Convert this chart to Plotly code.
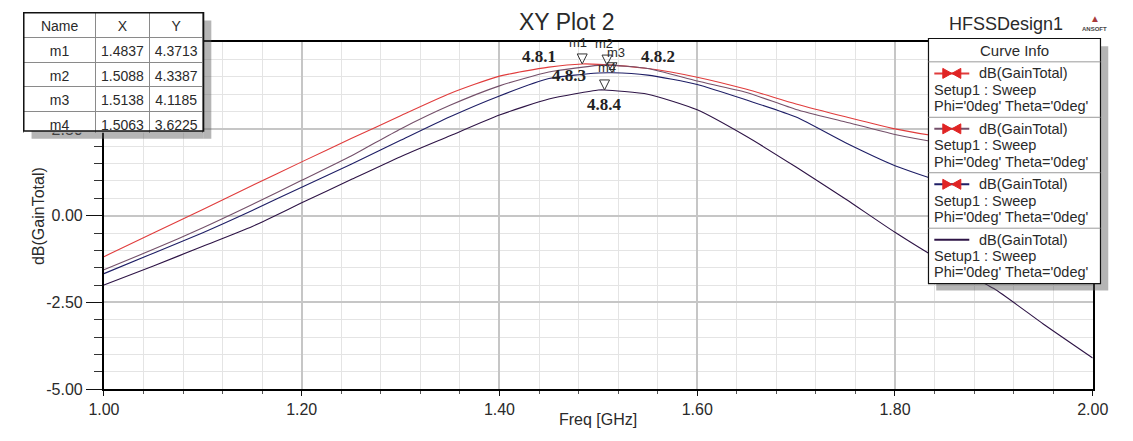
import plotly.graph_objects as go

# ---------------------------------------------------------------- data
freq = [1.00, 1.05, 1.10, 1.15, 1.20, 1.25, 1.30, 1.35, 1.40, 1.45, 1.50,
        1.55, 1.60, 1.65, 1.70, 1.75, 1.80, 1.85, 1.90, 1.95, 2.00]

gain_481 = [-1.18, -0.50, 0.18, 0.87, 1.55, 2.22, 2.88, 3.52, 4.02, 4.28, 4.36,
            4.24, 3.99, 3.64, 3.22, 2.85, 2.50, 2.26, 2.12, 2.04, 2.00]
gain_482 = [-1.56, -0.97, -0.35, 0.32, 1.02, 1.72, 2.50, 3.18, 3.74, 4.14, 4.33,
            4.24, 3.88, 3.55, 3.06, 2.70, 2.34, 2.08, 1.88, 1.72, 1.60]
gain_483 = [-1.67, -1.08, -0.49, 0.15, 0.82, 1.48, 2.17, 2.85, 3.45, 3.95, 4.11,
            4.05, 3.78, 3.33, 2.84, 2.10, 1.44, 0.96, 0.62, 0.38, 0.20]
gain_484 = [-2.00, -1.45, -0.88, -0.31, 0.37, 1.04, 1.70, 2.30, 2.90, 3.36, 3.62,
            3.50, 3.05, 2.28, 1.40, 0.48, -0.48, -1.35, -2.10, -3.12, -4.10]

series = [gain_481, gain_482, gain_483, gain_484]
curve_labels = ["4.8.1", "4.8.2", "4.8.3", "4.8.4"]

marker_names = ["m1", "m2", "m3", "m4"]
marker_x = [1.4837, 1.5088, 1.5138, 1.5063]
marker_y = [4.3713, 4.3387, 4.1185, 3.6225]

x_tickvals = [1.0, 1.2, 1.4, 1.6, 1.8, 2.0]
x_ticktext = ["1.00", "1.20", "1.40", "1.60", "1.80", "2.00"]
y_tickvals = [-5.0, -2.5, 0.0, 2.5, 5.0]
y_ticktext = ["-5.00", "-2.50", "0.00", "2.50", "5.00"]

legend_lines = ["dB(GainTotal)", "Setup1 : Sweep", "Phi='0deg' Theta='0deg'"]

# ---------------------------------------------------------------- style
W, H = 1133, 441
FONT = "Liberation Sans, Arial, sans-serif"
SERIF = "Liberation Serif, Times New Roman, serif"
TEXT = "#2a2a2a"
SHADOW = "rgba(90,90,90,0.45)"

line_colors = ["#e03c3c", "#74506a", "#1e1e66", "#2e1446"]
legend_symbol = [True, True, True, False]
SYMBOL_RED = "#e02424"

# text positions of the curve names (data units)
label_pos_x = [1.440, 1.560, 1.470, 1.506]
label_pos_y = [4.58, 4.58, 4.04, 3.21]
# marker-name offsets in pixels
marker_label_dx = [-4, -3, 4, 2]
marker_label_dy = [21, 22, 20, 22]


def px(x):
    return x / W


def py(y):
    return 1 - y / H


def text_at(x, y, text, size, xanchor="center", family=FONT, color=TEXT, **kw):
    return dict(x=px(x), y=py(y), xref="paper", yref="paper", text=text,
                showarrow=False, xanchor=xanchor, yanchor="middle",
                font=dict(family=family, size=size, color=color), **kw)


fig = go.Figure()

# ---------------------------------------------------------------- curves
for vals, mx, my, col in zip(series, marker_x, marker_y, line_colors):
    pts = sorted(list(zip(freq, vals)) + [(mx, my)])
    fig.add_trace(go.Scatter(
        x=[p[0] for p in pts], y=[p[1] for p in pts],
        mode="lines", line=dict(color=col, width=1.1, shape="spline", smoothing=0.6),
        hoverinfo="skip", showlegend=False))

# ---------------------------------------------------------------- marker table
fig.add_trace(go.Table(
    domain=dict(x=[px(8), px(193)], y=[py(130), py(5)]),
    columnwidth=[74, 56, 55],
    header=dict(values=["Name", "X", "Y"], height=25, align="center",
                fill_color="white", line=dict(color="#8a8a8a", width=1),
                font=dict(family=FONT, size=14, color=TEXT)),
    cells=dict(values=[marker_names,
                       [f"{v:.4f}" for v in marker_x],
                       [f"{v:.4f}" for v in marker_y]],
               height=24.5, align="center", fill_color="white",
               line=dict(color="#8a8a8a", width=1),
               font=dict(family=FONT, size=14, color=TEXT)),
))

shapes = []
annotations = []

# table shadow + outline
shapes.append(dict(type="rect", xref="paper", yref="paper", layer="above",
                   x0=px(193), x1=px(201), y0=py(136), y1=py(13),
                   fillcolor=SHADOW, line=dict(width=0)))
shapes.append(dict(type="rect", xref="paper", yref="paper", layer="above",
                   x0=px(16), x1=px(193), y0=py(136), y1=py(128),
                   fillcolor=SHADOW, line=dict(width=0)))
shapes.append(dict(type="rect", xref="paper", yref="paper", layer="above",
                   x0=px(8), x1=px(193), y0=py(128), y1=py(5),
                   fillcolor="rgba(0,0,0,0)", line=dict(color="#111", width=1.5)))

# ---------------------------------------------------------------- markers
for name, mx, my, dx, dy in zip(marker_names, marker_x, marker_y,
                                marker_label_dx, marker_label_dy):
    shapes.append(dict(type="path", xref="x", yref="y", layer="above",
                       xsizemode="pixel", ysizemode="pixel",
                       xanchor=mx, yanchor=my,
                       path="M -5,10 L 5,10 L 0,0 Z",
                       fillcolor="rgba(0,0,0,0)", line=dict(color="#333", width=1)))
    annotations.append(dict(x=mx, y=my, xref="x", yref="y", text=name,
                            showarrow=False, xanchor="center", yanchor="middle",
                            xshift=dx, yshift=dy,
                            font=dict(family=FONT, size=13, color=TEXT)))

for txt, lx, ly in zip(curve_labels, label_pos_x, label_pos_y):
    annotations.append(dict(x=lx, y=ly, xref="x", yref="y", text=f"<b>{txt}</b>",
                            showarrow=False, xanchor="center", yanchor="middle",
                            font=dict(family=SERIF, size=17, color="#222")))

# ---------------------------------------------------------------- curve-info box
LX0, LX1, LY0, LY1 = 939, 1116, 31.7, 286.7
HEAD = 56
ROW = (LY1 - HEAD) / 4
LEG_FONT = 14.5
shapes.append(dict(type="rect", xref="paper", yref="paper", layer="above",
                   x0=px(LX0 + 8), x1=px(LX1 + 8), y0=py(LY1 + 7), y1=py(LY0 + 8),
                   fillcolor=SHADOW, line=dict(width=0)))
shapes.append(dict(type="rect", xref="paper", yref="paper", layer="above",
                   x0=px(LX0), x1=px(LX1), y0=py(LY1), y1=py(LY0),
                   fillcolor="white", line=dict(color="#111", width=1.2)))
annotations.append(text_at((LX0 + LX1) / 2, 44, "Curve Info", 15))
for i, (col, sym) in enumerate(zip(line_colors, legend_symbol)):
    top = HEAD + i * ROW
    shapes.append(dict(type="line", xref="paper", yref="paper", layer="above",
                       x0=px(LX0), x1=px(LX1), y0=py(top), y1=py(top),
                       line=dict(color="#9a9a9a", width=1)))
    cy = top + 12
    shapes.append(dict(type="line", xref="paper", yref="paper", layer="above",
                       x0=px(945), x1=px(981), y0=py(cy), y1=py(cy),
                       line=dict(color=col, width=2)))
    if sym:
        shapes.append(dict(type="path", xref="paper", yref="paper", layer="above",
                           xsizemode="pixel", ysizemode="pixel",
                           xanchor=px(963), yanchor=py(cy),
                           path="M -9,5 L 0,0 L -9,-5 Z M 9,5 L 0,0 L 9,-5 Z",
                           fillcolor=SYMBOL_RED, line=dict(color=SYMBOL_RED, width=1)))
    annotations.append(text_at(989, cy, legend_lines[0], LEG_FONT, xanchor="left"))
    annotations.append(text_at(943, cy + 17, legend_lines[1], LEG_FONT, xanchor="left"))
    annotations.append(text_at(943, cy + 34, legend_lines[2], LEG_FONT, xanchor="left"))

# ---------------------------------------------------------------- titles
annotations.append(text_at(566, 15, "XY Plot 2", 23))
annotations.append(text_at(1019, 17, "HFSSDesign1", 18))
annotations.append(text_at(1110, 11, "▲", 10, color="#a83a3a"))
annotations.append(text_at(1110, 22, "<b>ANSOFT</b>", 6, color="#444"))
annotations.append(text_at(599, 428, "Freq [GHz]", 16))
annotations.append(text_at(23, 216, "dB(GainTotal)", 16, textangle=-90))

# ---------------------------------------------------------------- axes
fig.update_layout(
    width=W, height=H, margin=dict(l=0, r=0, t=0, b=0),
    paper_bgcolor="white", plot_bgcolor="white", showlegend=False,
    font=dict(family=FONT, color=TEXT),
    xaxis=dict(domain=[px(90.5), px(1108)], range=[1, 2],
               tickvals=x_tickvals, ticktext=x_ticktext,
               ticks="outside", ticklen=5, tickcolor="#111", tickwidth=1,
               tickfont=dict(family=FONT, size=16, color=TEXT),
               showline=True, linecolor="#000", linewidth=2, mirror=True,
               showgrid=True, gridcolor="#c6c6c6", gridwidth=2, zeroline=False,
               minor=dict(tick0=1, dtick=0.04, showgrid=True, gridcolor="#e4e4e4",
                          gridwidth=1, ticks="outside", ticklen=3, tickcolor="#555")),
    yaxis=dict(domain=[py(396.5), py(35.5)], range=[-5, 5],
               tickvals=y_tickvals, ticktext=y_ticktext,
               ticks="outside", ticklen=16, tickcolor="#111", tickwidth=1,
               tickfont=dict(family=FONT, size=16, color=TEXT),
               showline=True, linecolor="#000", linewidth=2, mirror=True,
               showgrid=True, gridcolor="#c6c6c6", gridwidth=2, zeroline=False,
               minor=dict(tick0=0, dtick=0.5, showgrid=True, gridcolor="#e4e4e4",
                          gridwidth=1, ticks="outside", ticklen=8, tickcolor="#333")),
    shapes=shapes, annotations=annotations,
)

fig.write_html("out.html")
